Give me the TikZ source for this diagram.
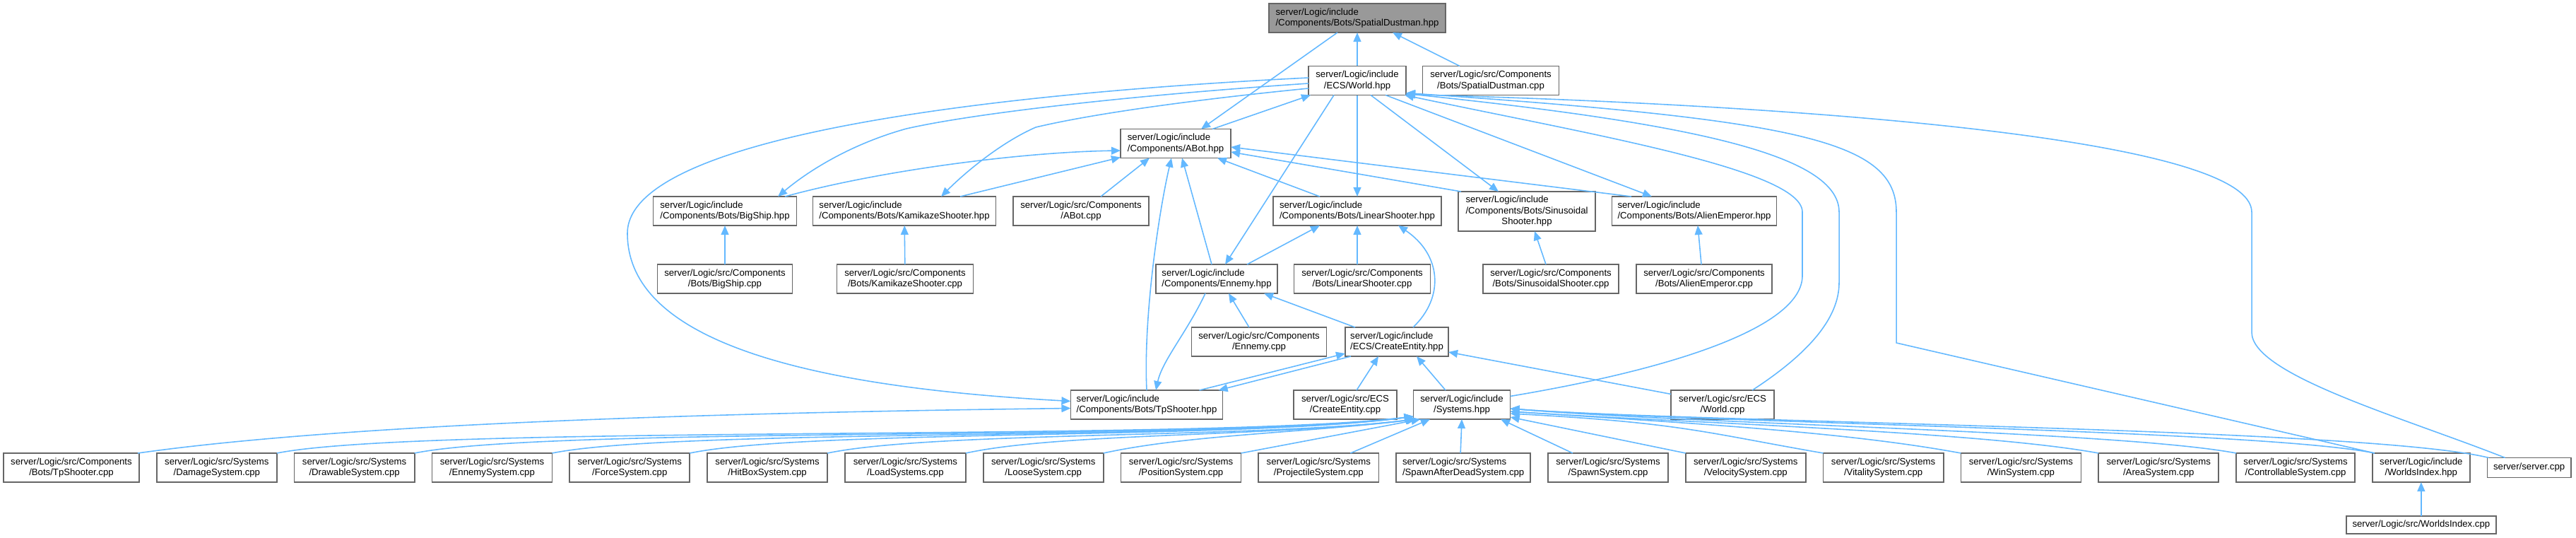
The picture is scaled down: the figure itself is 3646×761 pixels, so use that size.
\documentclass[tikz,border=0pt]{standalone}
\usepackage{fontspec}
\setmainfont{Liberation Sans}
\usetikzlibrary{positioning, arrows.meta}
\definecolor{incl}{RGB}{99,184,255}
\definecolor{frame}{RGB}{102,102,102}
\definecolor{rootfill}{RGB}{153,153,153}
\newcommand{\lfirst}[2]{\rlap{#1}\phantom{#2}\\#2}

\begin{document}
\begin{tikzpicture}[
    x=0.01cm, y=-0.01cm,
    >={Triangle[length=3.7pt, width=3.1pt]},
    filebox/.style={draw=frame, fill=white, line width=0.5pt, inner sep=0pt,
                    outer sep=0pt, minimum height=0.41cm, align=center,
                    font=\fontsize{3.75}{4.4}\selectfont},
    sysbox/.style={filebox, minimum width=1.70cm},
    dep/.style={->, draw=incl, line width=0.45pt},
    node distance=0.247cm,
]
\useasboundingbox (0,0) rectangle (3646,761);

% ══════════════════════════════════════
%  TOP: the header and World.hpp
% ══════════════════════════════════════

\node[filebox, fill=rootfill, minimum width=2.50cm] (dustman) at (1921,25.5)
    {\lfirst{server/Logic/include}{/Components/Bots/SpatialDustman.hpp}};
\node[filebox, minimum width=1.38cm] (world) at (1921,114)
    {server/Logic/include\\/ECS/World.hpp};
\node[filebox, minimum width=1.93cm] (dustcpp) at (2110,114)
    {server/Logic/src/Components\\/Bots/SpatialDustman.cpp};
\node[filebox, minimum width=1.56cm] (abot) at (1664,203)
    {\lfirst{server/Logic/include}{/Components/ABot.hpp}};

% ══════════════════════════════════════
%  BOTS
% ══════════════════════════════════════

\node[filebox, minimum width=2.03cm] (bigship) at (1026,298.5)
    {\lfirst{server/Logic/include}{/Components/Bots/BigShip.hpp}};
\node[filebox, minimum width=2.59cm] (kamikaze) at (1280,298.5)
    {\lfirst{server/Logic/include}{/Components/Bots/KamikazeShooter.hpp}};
\node[filebox, minimum width=1.92cm] (abotcpp) at (1530,298.5)
    {server/Logic/src/Components\\/ABot.cpp};
\node[filebox, minimum width=2.38cm] (linear) at (1921,298.5)
    {\lfirst{server/Logic/include}{/Components/Bots/LinearShooter.hpp}};
\node[filebox, minimum width=1.94cm, minimum height=0.56cm] (sinus) at (2161,299)
    {\lfirst{server/Logic/include}{/Components/Bots/Sinusoidal}\\Shooter.hpp};
\node[filebox, minimum width=2.33cm] (alien) at (2398,298.5)
    {\lfirst{server/Logic/include}{/Components/Bots/AlienEmperor.hpp}};

\node[filebox, minimum width=1.91cm] (bigshipcpp) at (1026,394.5)
    {server/Logic/src/Components\\/Bots/BigShip.cpp};
\node[filebox, minimum width=1.93cm] (kamikazecpp) at (1281,394.5)
    {server/Logic/src/Components\\/Bots/KamikazeShooter.cpp};
\node[filebox, minimum width=1.72cm] (ennemy) at (1722,394.5)
    {\lfirst{server/Logic/include}{/Components/Ennemy.hpp}};
\node[filebox, minimum width=1.93cm] (linearcpp) at (1928,394.5)
    {server/Logic/src/Components\\/Bots/LinearShooter.cpp};
\node[filebox, minimum width=1.92cm] (sinuscpp) at (2195,394.5)
    {server/Logic/src/Components\\/Bots/SinusoidalShooter.cpp};
\node[filebox, minimum width=1.92cm] (aliencpp) at (2412,394.5)
    {server/Logic/src/Components\\/Bots/AlienEmperor.cpp};

\node[filebox, minimum width=1.91cm] (ennemycpp) at (1782,483.5)
    {server/Logic/src/Components\\/Ennemy.cpp};
\node[filebox, minimum width=1.46cm] (create) at (1977,483.5)
    {\lfirst{server/Logic/include}{/ECS/CreateEntity.hpp}};

\node[filebox, minimum width=2.15cm] (tpshooter) at (1623,572.5)
    {\lfirst{server/Logic/include}{/Components/Bots/TpShooter.hpp}};
\node[filebox, minimum width=1.46cm] (createcpp) at (1904,572.5)
    {server/Logic/src/ECS\\/CreateEntity.cpp};
\node[filebox, minimum width=1.37cm] (systems) at (2069,572.5)
    {server/Logic/include\\/Systems.hpp};
\node[filebox, minimum width=1.46cm] (worldcpp) at (2438,572.5)
    {server/Logic/src/ECS\\/World.cpp};

% ══════════════════════════════════════
%  BOTTOM ROW: sources
% ══════════════════════════════════════

\node[filebox, minimum width=1.92cm] (tpshootercpp) at (101,661.5)
    {server/Logic/src/Components\\/Bots/TpShooter.cpp};
\node[sysbox, right=of tpshootercpp] (damage)
    {server/Logic/src/Systems\\/DamageSystem.cpp};
\node[sysbox, right=of damage] (drawable)
    {server/Logic/src/Systems\\/DrawableSystem.cpp};
\node[sysbox, right=of drawable] (ennemysys)
    {server/Logic/src/Systems\\/EnnemySystem.cpp};
\node[sysbox, right=of ennemysys] (force)
    {server/Logic/src/Systems\\/ForceSystem.cpp};
\node[sysbox, right=of force] (hitbox)
    {server/Logic/src/Systems\\/HitBoxSystem.cpp};
\node[sysbox, minimum width=1.71cm, right=of hitbox] (load)
    {server/Logic/src/Systems\\/LoadSystems.cpp};
\node[sysbox, right=of load] (loose)
    {server/Logic/src/Systems\\/LooseSystem.cpp};
\node[sysbox, right=of loose] (position)
    {server/Logic/src/Systems\\/PositionSystem.cpp};
\node[sysbox, right=of position] (projectile)
    {server/Logic/src/Systems\\/ProjectileSystem.cpp};
\node[sysbox, minimum width=1.90cm, right=of projectile] (spawndead)
    {\lfirst{server/Logic/src/Systems}{/SpawnAfterDeadSystem.cpp}};
\node[sysbox, right=of spawndead] (spawn)
    {server/Logic/src/Systems\\/SpawnSystem.cpp};
\node[sysbox, right=of spawn] (velocity)
    {server/Logic/src/Systems\\/VelocitySystem.cpp};
\node[sysbox, right=of velocity] (vitality)
    {server/Logic/src/Systems\\/VitalitySystem.cpp};
\node[sysbox, right=of vitality] (win)
    {server/Logic/src/Systems\\/WinSystem.cpp};
\node[sysbox, right=of win] (area)
    {server/Logic/src/Systems\\/AreaSystem.cpp};
\node[sysbox, minimum width=1.68cm, right=of area] (controllable)
    {server/Logic/src/Systems\\/ControllableSystem.cpp};
\node[filebox, minimum width=1.38cm, right=of controllable] (worldsindex)
    {server/Logic/include\\/WorldsIndex.hpp};
\node[filebox, minimum width=1.18cm, minimum height=0.28cm, right=of worldsindex] (server)
    {server/server.cpp};
\node[filebox, minimum width=2.12cm, minimum height=0.25cm, below=0.48cm of worldsindex]
    (worldsindexcpp) {server/Logic/src/WorldsIndex.cpp};

% ══════════════════════════════════════
%  ARROWS
% ══════════════════════════════════════

% into the header
\draw[dep] (world) -- (dustman);
\draw[dep] ([xshift=-0.44cm]dustcpp.north) -- ([xshift=0.50cm]dustman.south);
\draw[dep] ([xshift=-0.28cm]dustman.south) -- ([xshift=0.36cm]abot.north);
\draw[dep] ([xshift=0.52cm]abot.north) -- ([xshift=-0.66cm]world.south);

% out of World.hpp
\draw[dep] ([yshift=-0.04cm]world.west) .. controls (1600,135) and (1380,160)
    .. (1283,182) .. controls (1200,205) and (1140,245) .. ([xshift=0.75cm]bigship.north);
\draw[dep] ([yshift=-0.11cm]world.west) .. controls (1700,140) and (1550,160)
    .. (1466,180) .. controls (1420,200) and (1370,240) .. ([xshift=0.52cm]kamikaze.north);
\draw[dep] ([yshift=0.04cm]world.west) .. controls (1350,135) and (888,200) .. (888,330)
    .. controls (888,470) and (1100,545) .. ([yshift=0.05cm]tpshooter.west);
\draw[dep] ([xshift=-0.33cm]world.south) -- ([xshift=0.12cm]ennemy.north);
\draw[dep] (world) -- (linear);
\draw[dep] ([xshift=0.19cm]world.south) -- ([xshift=-0.40cm]sinus.north);
\draw[dep] ([xshift=0.40cm]world.south) -- ([xshift=-0.60cm]alien.north);

% back into World.hpp from the right
\draw[dep] ([yshift=0.12cm]systems.east) .. controls (2380,520) and (2551,460) .. (2551,390)
    -- (2551,300) .. controls (2551,240) and (2250,190) .. ([xshift=-0.02cm]world.south east);
\draw[dep] ([xshift=0.42cm]worldcpp.north) .. controls (2560,500) and (2603,450) .. (2603,400)
    -- (2603,300) .. controls (2603,220) and (2400,175) .. ([yshift=0.02cm]world.south east);
\draw[dep] ([xshift=-0.66cm]worldsindex.north) -- (2684,485) -- (2684,300)
    .. controls (2684,200) and (2550,170) .. ([yshift=0.03cm]world.south east);
\draw[dep] ([xshift=-0.34cm]server.north) .. controls (3400,590) and (3187,530) .. (3187,470)
    -- (3187,300) .. controls (3187,200) and (2600,150) .. ([yshift=0.01cm]world.south east);

% into ABot.hpp
\draw[dep] ([xshift=0.85cm]bigship.north) .. controls (1250,240) and (1450,215)
    .. ([yshift=-0.10cm]abot.west);
\draw[dep] ([xshift=0.79cm]kamikaze.north) -- ([yshift=0.01cm]abot.south west);
\draw[dep] ([xshift=0.28cm]abotcpp.north) -- ([xshift=-0.37cm]abot.south);
\draw[dep] (tpshooter.north) .. controls (1618,450) and (1640,300) .. ([xshift=-0.06cm]abot.south);
\draw[dep] ([xshift=-0.07cm]ennemy.north) -- ([xshift=0.09cm]abot.south);
\draw[dep] ([xshift=-0.53cm]linear.north) -- ([xshift=0.59cm]abot.south);
\draw[dep] ([xshift=-0.93cm]sinus.north) -- ([yshift=-0.12cm]abot.east);
\draw[dep] ([xshift=-0.89cm]alien.north) -- ([yshift=-0.05cm]abot.east);

% sources into their headers
\draw[dep] (bigshipcpp) -- (bigship);
\draw[dep] (kamikazecpp) -- (kamikaze);
\draw[dep] ([xshift=-0.07cm]linearcpp.north) -- (linear.south);
\draw[dep] ([xshift=-0.07cm]sinuscpp.north) -- ([xshift=0.11cm]sinus.south);
\draw[dep] ([xshift=-0.04cm]aliencpp.north) -- ([xshift=0.05cm]alien.south);
\draw[dep] ([xshift=-0.14cm]ennemycpp.north) -- ([xshift=0.17cm]ennemy.south);
\draw[dep] (worldsindexcpp) -- (worldsindex);

% Ennemy, CreateEntity, TpShooter
\draw[dep] ([xshift=0.43cm]ennemy.north) -- ([xshift=-0.53cm]linear.south);
\draw[dep] ([xshift=0.23cm]create.north) .. controls (2045,420) and (2040,360)
    .. ([xshift=0.58cm]linear.south);
\draw[dep] ([xshift=-0.59cm]create.north) -- ([xshift=0.67cm]ennemy.south);
\draw[dep] ([xshift=-0.16cm]ennemy.south) .. controls (1680,470) and (1645,510)
    .. ([xshift=0.13cm]tpshooter.north);
\draw[dep] ([xshift=0.08cm]create.south west) -- ([xshift=-0.06cm]tpshooter.north east);
\draw[dep] ([xshift=-0.33cm]tpshooter.north east) -- ([yshift=0.04cm]create.south west);
\draw[dep] ([xshift=0.16cm]createcpp.north) -- ([xshift=-0.26cm]create.south);
\draw[dep] ([xshift=-0.23cm]systems.north) -- ([xshift=0.28cm]create.south);
\draw[dep] ([yshift=0.15cm]worldcpp.west) -- ([yshift=0.06cm]create.south east);
\draw[dep] ([xshift=-0.02cm]tpshootercpp.north east) .. controls (450,605) and (900,585)
    .. ([yshift=-0.05cm]tpshooter.west);

% systems from the left
\draw[dep] (damage.north east) .. controls (600,600) and (1700,625)
    .. ([yshift=0.04cm]systems.south west);
\draw[dep] (drawable.north east) .. controls (780,602) and (1720,625)
    .. ([yshift=0.04cm]systems.south west);
\draw[dep] (ennemysys.north east) .. controls (960,605) and (1740,624)
    .. ([yshift=0.04cm]systems.south west);
\draw[dep] (force.north east) .. controls (1140,607) and (1760,622)
    .. ([yshift=0.04cm]systems.south west);
\draw[dep] (hitbox.north east) .. controls (1320,610) and (1780,620)
    .. ([xshift=0.02cm]systems.south west);
\draw[dep] (load.north east) .. controls (1500,612) and (1800,618)
    .. ([xshift=0.03cm]systems.south west);
\draw[dep] (loose.north east) .. controls (1680,615) and (1850,612)
    .. ([xshift=0.04cm]systems.south west);
\draw[dep] (position.north east) -- ([xshift=0.10cm]systems.south west);
\draw[dep] ([xshift=0.45cm]projectile.north) -- ([xshift=-0.45cm]systems.south);
\draw[dep] ([xshift=-0.04cm]spawndead.north) -- (systems.south);
\draw[dep] ([xshift=-0.50cm]spawn.north) -- ([xshift=0.55cm]systems.south);

% systems from the right
\draw[dep] (velocity.north west) -- ([yshift=0.03cm]systems.south east);
\draw[dep] (vitality.north west) .. controls (2413,612) and (2380,598)
    .. ([yshift=0.08cm]systems.south east);
\draw[dep] (win.north west) .. controls (2608,610) and (2380,598)
    .. ([yshift=0.11cm]systems.south east);
\draw[dep] (area.north west) .. controls (2800,610) and (2380,598)
    .. ([yshift=0.11cm]systems.south east);
\draw[dep] (controllable.north west) .. controls (3000,610) and (2400,600)
    .. ([yshift=0.15cm]systems.south east);
\draw[dep] ([xshift=0.03cm]worldsindex.north west) .. controls (3200,608) and (2400,598)
    .. ([yshift=0.15cm]systems.south east);
\draw[dep] ([xshift=0.02cm]server.north west) .. controls (3350,605) and (2400,598)
    .. ([yshift=0.15cm]systems.south east);

\end{tikzpicture}
\end{document}
